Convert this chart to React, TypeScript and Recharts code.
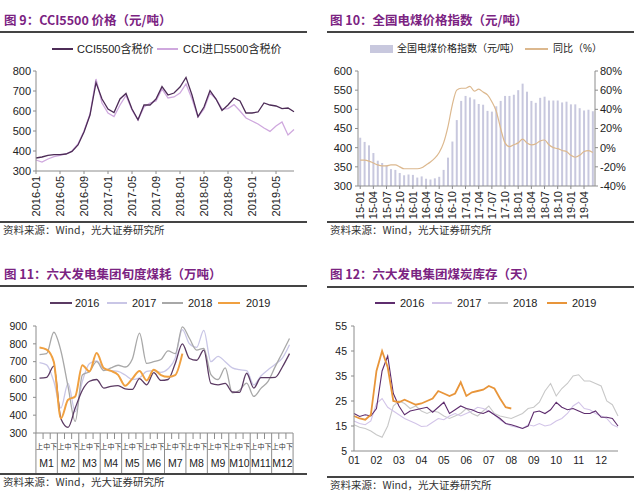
import React from "react";
import { LineChart, Line, XAxis, YAxis, ComposedChart, Bar } from "recharts";

const FONT = '"Liberation Sans", Arial, "Noto Sans CJK SC", sans-serif';
const CJK = '"Noto Sans CJK SC", "Liberation Sans", sans-serif';
const PURPLE = "#7B2382";
const AXIS = "#8c8c8c";

// 图9 CCI5500 价格
const cciMonths = [
  "2016-01", "2016-02", "2016-03", "2016-04", "2016-05", "2016-06", "2016-07", "2016-08", "2016-09", "2016-10", "2016-11", "2016-12",
  "2017-01", "2017-02", "2017-03", "2017-04", "2017-05", "2017-06", "2017-07", "2017-08", "2017-09", "2017-10", "2017-11", "2017-12",
  "2018-01", "2018-02", "2018-03", "2018-04", "2018-05", "2018-06", "2018-07", "2018-08", "2018-09", "2018-10", "2018-11", "2018-12",
  "2019-01", "2019-02", "2019-03", "2019-04", "2019-05", "2019-06", "2019-07", "2019-08",
];
const cci5500 = [
  365, 370, 378, 382, 382, 385, 398, 430, 495, 580, 742, 660,
  610, 592, 660, 688, 610, 556, 630, 630, 660, 722, 680, 690,
  720, 768, 680, 572, 620, 702, 660, 603, 630, 665, 650, 590,
  590, 595, 640, 630, 625, 612, 615, 596,
];
const cciImport = [
  355, 345, 360, 372, 378, 385, 400, 435, 500, 585, 760, 640,
  590, 572, 630, 678, 605, 555, 620, 640, 650, 710, 665, 670,
  690, 735, 660, 570, 610, 690, 660, 610, 612, 632, 600, 565,
  550, 535, 515, 498, 525, 545, 480, 508,
];

// 图10 全国电煤价格指数
const elecYears = ["15", "16", "17", "18", "19"];
const monthNums = ["01", "02", "03", "04", "05", "06", "07", "08", "09", "10", "11", "12"];
const elecIndex = [
  426, 415, 406, 386, 366, 360, 354, 344, 342, 334, 328, 330,
  329, 322, 325, 319, 317, 320, 324, 342, 374, 416, 472, 522,
  535, 531, 526, 514, 512, 496, 494, 508, 522, 535, 535, 538,
  550, 567, 546, 522, 517, 530, 533, 523, 523, 523, 518, 520,
  513, 513, 503, 497, 499, 495,
];
const elecYoy = [
  -13, -13, -14, -16, -18, -19, -19, -18, -18, -20, -22, -22,
  -22, -22, -21, -18, -15, -11, -5, 5, 22, 45, 60, 62,
  62, 64, 59, 61, 58, 55, 48, 38, 20, 5, 1, 3,
  5, 9, 5, 3, 4, 7, 8, 3, 0, -1, -3, -4,
  -8, -10, -8, -4, -3, -5,
];

// 图11 六大发电集团旬度煤耗
const xunMonths = ["M1", "M2", "M3", "M4", "M5", "M6", "M7", "M8", "M9", "M10", "M11", "M12"];
const xunParts = ["上", "中", "下"];
const xun2016 = [608, 612, 675, 380, 332, 440, 540, 590, 600, 552, 562, 566, 548, 545, 605, 570, 638, 595, 600, 690, 800, 718, 708, 765, 578, 570, 578, 530, 528, 635, 552, 610, 610, 612, 670, 745];
const xun2017 = [695, 682, 590, 440, 578, 420, 590, 690, 705, 660, 650, 645, 625, 600, 610, 645, 650, 640, 660, 720, 880, 800, 780, 875, 700, 730, 700, 665, 655, 650, 570, 620, 655, 685, 720, 795];
const xun2018 = [740, 745, 865, 760, 560, 365, 625, 645, 700, 650, 665, 680, 670, 715, 860, 690, 700, 712, 760, 745, 895, 830, 765, 775, 628, 600, 665, 525, 540, 580, 505, 550, 590, 672, 750, 830];
const xun2019 = [780, 768, 700, 382, 486, 505, 680, 645, 748, 664, 648, 626, 565, 605, 648, 595, 655, 625, 615, 625, 745];

// 图12 六大发电集团煤炭库存
const stockWeeks = ["a", "b", "c", "d"];
const stock2016 = [20, 18.8, 19.5, 19, 22, 37, 43, 28, 23, 19.5, 21, 21.5, 22, 22.5, 20.5, 22.5, 24.5, 20, 21.5, 23, 22, 21.5, 20.5, 20, 21, 19.5, 18, 16, 15.5, 14.8, 14, 15, 20.5, 21, 20, 21.5, 24.5, 22.5, 21.5, 22, 21, 20, 20, 21, 18.5, 18.5, 18, 15];
const stock2017 = [17, 16, 15.5, 17, 24, 26, 22.5, 21, 19.5, 18, 17, 16, 14.8, 15, 16.5, 18, 17.5, 19, 20, 19, 20, 21, 22.5, 22, 21, 19.5, 17.5, 16, 15, 14.5, 14, 15.5, 15, 16, 15, 15.5, 17, 18, 20, 23, 24.5, 22, 21.5, 20, 19, 18, 15.5, 14.5];
const stock2018 = [15.5, 14.5, 14, 13, 11.5, 10.5, 15, 23, 25, 24, 22, 23, 21, 20, 21, 20.5, 19, 18, 19, 20, 22, 20, 19, 21, 23, 20, 19, 18.5, 18, 19, 20, 22, 22.5, 24.5, 29, 32, 27, 30, 32, 35, 35.5, 33, 33, 32, 31, 25, 23.5, 19];
const stock2019 = [19, 18, 17.5, 19.5, 37, 45, 38.5, 25, 24.5, 25.5, 24.5, 23.5, 24, 25, 26, 29, 28, 27, 28, 32.5, 27, 28.5, 29, 29.5, 31, 30, 26, 22.5, 22];

const cciData = cciMonths.map((m, i) => ({ m, a: cci5500[i], b: cciImport[i] }));
const elecMonths = elecYears.flatMap((y) => monthNums.map((m) => `${y}-${m}`)).slice(0, elecIndex.length);
const elecData = elecMonths.map((m, i) => ({ m, idx: elecIndex[i], yoy: elecYoy[i] }));
const xunKeys = xunMonths.flatMap((m) => xunParts.map((p) => `${m}${p}`));
const xunData = xunKeys.map((k, i) => ({ k, y16: xun2016[i], y17: xun2017[i], y18: xun2018[i], y19: xun2019[i] ?? null }));
const stockKeys = monthNums.flatMap((m) => stockWeeks.map((w) => `${m}${w}`));
const stockData = stockKeys.map((k, i) => ({ k, y16: stock2016[i], y17: stock2017[i], y18: stock2018[i], y19: stock2019[i] ?? null }));

const RotTick = ({ x, y, payload }: any) => (
  <text x={x} y={y} dy={4} transform={`rotate(-90, ${x}, ${y})`} textAnchor="end" fontSize={11} fill="#222" fontFamily={FONT}>
    {payload.value}
  </text>
);

const XUN_STEP = (257 - 7) / 35;
const XunTick = ({ x, y, index, payload }: any) => {
  const half = XUN_STEP / 2;
  const part = index % 3;
  return (
    <g>
      <line x1={x - half} x2={x - half} y1={y} y2={part === 0 ? y + 40 : y + 6} stroke={AXIS} />
      {index === 35 && <line x1={x + half} x2={x + half} y1={y} y2={y + 40} stroke={AXIS} />}
      <text x={x} y={y + 16} textAnchor="middle" fontSize={7} fill="#333" fontFamily={CJK}>
        {xunParts[part]}
      </text>
      {part === 1 && (
        <text x={x} y={y + 34} textAnchor="middle" fontSize={10.5} fill="#222" fontFamily={FONT}>
          {payload.value.replace(/[上中下]/, "")}
        </text>
      )}
    </g>
  );
};

const box = (left: number, top: number): React.CSSProperties => ({ position: "absolute", left, top });

const Title = ({ left, top, text }: { left: number; top: number; text: string }) => (
  <div style={{ ...box(left, top), fontSize: 12.5, fontWeight: 700, color: PURPLE, fontFamily: CJK, lineHeight: "16px", whiteSpace: "nowrap" }}>
    {text}
  </div>
);

const Rule = ({ left, top, width }: { left: number; top: number; width: number }) => (
  <div style={{ ...box(left, top), width, height: 1.5, background: "#444" }} />
);

const Source = ({ left, top }: { left: number; top: number }) => (
  <div style={{ ...box(left, top), fontSize: 10.5, color: "#333", fontFamily: CJK, lineHeight: "14px", whiteSpace: "nowrap" }}>
    资料来源：Wind，光大证券研究所
  </div>
);

const LegLine = ({ left, top, width, color, thick = 1.5 }: any) => (
  <div style={{ ...box(left, top - thick / 2), width, height: thick, background: color }} />
);

const LegText = ({ left, top, text, size = 11 }: any) => (
  <div style={{ ...box(left, top - 7), fontSize: size, color: "#222", fontFamily: FONT, lineHeight: "14px", whiteSpace: "nowrap" }}>
    {text}
  </div>
);

const yTick = { fontSize: 11, fill: "#222" };

export default function App() {
  return (
    <div style={{ position: "absolute", left: 0, top: 0, width: 640, height: 495, background: "#fff", overflow: "hidden", fontFamily: FONT }}>
      {/* 图9 */}
      <Title left={4} top={12} text="图 9：CCI5500 价格（元/吨）" />
      <Rule left={0} top={31} width={307} />
      <LegLine left={52} top={49} width={21} color="#4d2c57" />
      <LegText left={77} top={49} text="CCI5500含税价" />
      <LegLine left={157} top={49} width={21} color="#cfa8de" />
      <LegText left={183} top={49} text="CCI进口5500含税价" />
      <div style={box(0, 60)}>
        <LineChart width={308} height={163} data={cciData} margin={{ top: 11, right: 14, left: 0, bottom: 0 }}>
          <XAxis dataKey="m" interval={3} height={52} tickSize={3} tickMargin={2} stroke={AXIS} tick={(p: any) => <RotTick {...p} />} />
          <YAxis domain={[300, 800]} ticks={[300, 400, 500, 600, 700, 800]} width={36} tickSize={3} tickMargin={2} stroke={AXIS} tick={yTick} interval={0} />
          <Line dataKey="b" stroke="#cfa8de" strokeWidth={1.3} dot={false} isAnimationActive={false} />
          <Line dataKey="a" stroke="#4d2c57" strokeWidth={1.3} dot={false} isAnimationActive={false} />
        </LineChart>
      </div>
      <Rule left={0} top={221} width={307} />
      <Source left={3} top={223} />

      {/* 图10 */}
      <Title left={330} top={12} text="图 10：全国电煤价格指数（元/吨）" />
      <Rule left={327} top={31} width={307} />
      <div style={{ ...box(370, 45), width: 23, height: 8, background: "#c8c8de" }} />
      <LegText left={397} top={49} text="全国电煤价格指数（元/吨）" size={10} />
      <LegLine left={525} top={49} width={23} color="#dcb88e" thick={1.2} />
      <LegText left={553} top={49} text="同比（%）" size={10} />
      <div style={box(320, 60)}>
        <ComposedChart width={320} height={162} data={elecData} margin={{ top: 11, right: 0, left: 0, bottom: 0 }} barCategoryGap="28%">
          <XAxis dataKey="m" interval={2} height={36} tickSize={3} tickMargin={2} stroke={AXIS} tick={(p: any) => <RotTick {...p} />} />
          <YAxis yAxisId="l" domain={[300, 600]} ticks={[300, 350, 400, 450, 500, 550, 600]} width={38} tickSize={3} tickMargin={3} stroke={AXIS} tick={yTick} interval={0} />
          <YAxis yAxisId="r" orientation="right" domain={[-40, 80]} ticks={[-40, -20, 0, 20, 40, 60, 80]} width={45} tickSize={3} tickMargin={2} stroke={AXIS} tick={yTick} interval={0} tickFormatter={(v: number) => `${v}%`} />
          <Bar yAxisId="l" dataKey="idx" fill="#c8c8de" isAnimationActive={false} />
          <Line yAxisId="r" dataKey="yoy" type="monotone" stroke="#dcb88e" strokeWidth={1.2} dot={false} isAnimationActive={false} />
        </ComposedChart>
      </div>
      <Rule left={327} top={221} width={307} />
      <Source left={330} top={223} />

      {/* 图11 */}
      <Title left={4} top={266} text="图 11：六大发电集团旬度煤耗（万吨）" />
      <Rule left={0} top={285} width={307} />
      <LegLine left={50} top={303} width={22} color="#5b3a63" />
      <LegText left={75} top={303} text="2016" />
      <LegLine left={107} top={303} width={20} color="#c9c6e6" />
      <LegText left={132} top={303} text="2017" />
      <LegLine left={162} top={303} width={21} color="#a8a8a8" />
      <LegText left={188} top={303} text="2018" />
      <LegLine left={218} top={303} width={22} color="#f0a040" thick={2} />
      <LegText left={246} top={303} text="2019" />
      <div style={box(0, 316)}>
        <LineChart width={308} height={159} data={xunData} margin={{ top: 10, right: 15, left: 0, bottom: 0 }}>
          <XAxis dataKey="k" interval={0} height={42} tickLine={false} tickSize={0} tickMargin={0} padding={{ left: 3.5, right: 3.5 }} stroke={AXIS} tick={(p: any) => <XunTick {...p} />} />
          <YAxis domain={[300, 900]} ticks={[300, 400, 500, 600, 700, 800, 900]} width={36} tickSize={3} tickMargin={6} stroke={AXIS} tick={{ fontSize: 10.5, fill: "#222" }} interval={0} />
          <Line dataKey="y17" type="monotone" stroke="#c9c6e6" strokeWidth={1.3} dot={false} isAnimationActive={false} />
          <Line dataKey="y18" type="monotone" stroke="#a8a8a8" strokeWidth={1.3} dot={false} isAnimationActive={false} />
          <Line dataKey="y16" type="monotone" stroke="#5b3a63" strokeWidth={1.3} dot={false} isAnimationActive={false} />
          <Line dataKey="y19" type="monotone" stroke="#f0a040" strokeWidth={2} dot={false} connectNulls={false} isAnimationActive={false} />
        </LineChart>
      </div>
      <Rule left={0} top={473} width={307} />
      <Source left={3} top={475} />

      {/* 图12 */}
      <Title left={330} top={266} text="图 12：六大发电集团煤炭库存（天）" />
      <Rule left={327} top={286} width={307} />
      <LegLine left={375} top={303} width={20} color="#5e2d6e" />
      <LegText left={400} top={303} text="2016" />
      <LegLine left={432} top={303} width={20} color="#d2c4e8" />
      <LegText left={457} top={303} text="2017" />
      <LegLine left={488} top={303} width={20} color="#c8c8c8" />
      <LegText left={513} top={303} text="2018" />
      <LegLine left={547} top={303} width={20} color="#e8953a" thick={2} />
      <LegText left={572} top={303} text="2019" />
      <div style={box(320, 316)}>
        <LineChart width={312} height={157} data={stockData} margin={{ top: 10, right: 14, left: 0, bottom: 0 }}>
          <XAxis dataKey="k" interval={3} height={22} tickSize={0} tickMargin={6} stroke={AXIS} tick={{ fontSize: 10.5, fill: "#222" }} tickFormatter={(v: string) => v.slice(0, 2)} />
          <YAxis domain={[5, 55]} ticks={[5, 15, 25, 35, 45, 55]} width={34} tickSize={3} tickMargin={4} stroke={AXIS} tick={{ fontSize: 10.5, fill: "#222" }} interval={0} />
          <Line dataKey="y18" stroke="#c8c8c8" strokeWidth={1.1} dot={false} isAnimationActive={false} />
          <Line dataKey="y17" stroke="#d2c4e8" strokeWidth={1.1} dot={false} isAnimationActive={false} />
          <Line dataKey="y16" stroke="#5e2d6e" strokeWidth={1.1} dot={false} isAnimationActive={false} />
          <Line dataKey="y19" stroke="#e8953a" strokeWidth={1.8} dot={false} isAnimationActive={false} />
        </LineChart>
      </div>
      <Rule left={327} top={476} width={307} />
      <Source left={330} top={478} />
    </div>
  );
}
